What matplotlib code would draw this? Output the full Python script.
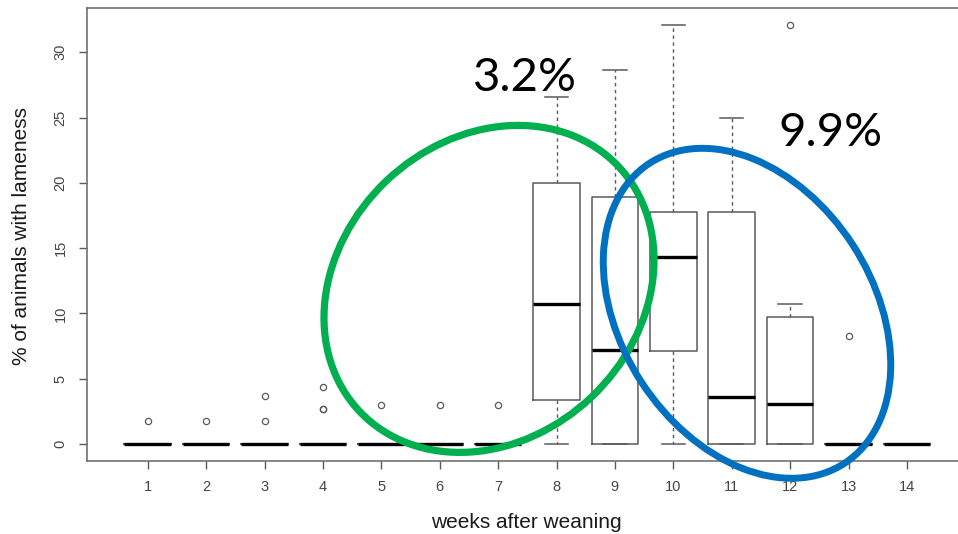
import numpy as np
import matplotlib
matplotlib.use('Agg')
import matplotlib.pyplot as plt
from matplotlib.patches import Ellipse
from matplotlib.transforms import IdentityTransform

plt.rc('font', family=['Liberation Sans', 'DejaVu Sans'])

# boxplot summary per week (% of animals with lameness)
weeks   = list(range(1, 15))
q1      = [0, 0, 0, 0, 0, 0, 0, 3.4, 0, 7.1, 0, 0, 0, 0]
med     = [0, 0, 0, 0, 0, 0, 0, 10.7, 7.2, 14.3, 3.6, 3.1, 0, 0]
q3      = [0, 0, 0, 0, 0, 0, 0, 20.0, 18.9, 17.8, 17.8, 9.7, 0, 0]
whislo  = [0] * 14
whishi  = [0, 0, 0, 0, 0, 0, 0, 26.6, 28.6, 32.1, 25.0, 10.7, 0, 0]
outl    = [[1.8], [1.8], [1.8, 3.7], [2.7, 2.7, 4.4], [3.0], [3.0], [3.0],
           [], [], [], [], [32.1], [8.3], []]

ann_text = ['3.2%', '9.9%']

W, H = 958, 534
fig = plt.figure(figsize=(W/100, H/100), dpi=100)

def fx(px): return px / W
def fy(py): return 1 - py / H

# axes box in pixels: left 87, bottom 461, top 7.8 (right side runs off the figure)
xlo, xhi = -0.04, 15.04
ylo, yhi = -1.3, 33.4
ppx = 58.4
axw = (xhi - xlo) * ppx
ax = fig.add_axes([fx(87), fy(461), axw / W, (461 - 7.8) / H])

stats = []
for i in range(len(weeks)):
    stats.append(dict(q1=q1[i], med=med[i], q3=q3[i], whislo=whislo[i],
                      whishi=whishi[i], fliers=outl[i]))

grey = '#5a5a5a'
ax.bxp(stats, positions=weeks, widths=0.8, showfliers=True,
       boxprops=dict(color=grey, lw=1.1),
       whiskerprops=dict(color=grey, lw=1.0, ls=(0, (2.5, 2.5))),
       capprops=dict(color=grey, lw=1.1),
       medianprops=dict(color='black', lw=2.4, solid_capstyle='butt'),
       flierprops=dict(marker='o', markersize=4.5, markerfacecolor='none',
                       markeredgecolor=grey, markeredgewidth=0.9))

ax.set_xlim(xlo, xhi)
ax.set_ylim(ylo, yhi)
ax.set_xticks(weeks)
ax.set_xticklabels([str(w) for w in weeks])
ax.set_yticks([0, 5, 10, 15, 20, 25, 30])
ax.tick_params(axis='both', colors=grey, labelcolor='#444444', labelsize=10.5,
               length=6, width=1.0, pad=8)
for lab in ax.get_yticklabels():
    lab.set_rotation(90)
    lab.set_va('center')
for sp in ax.spines.values():
    sp.set_color('#666666')
    sp.set_linewidth(1.1)

fig.text(fx(526), fy(522), 'weeks after weaning', ha='center', va='center',
         fontsize=15, color='#1a1a1a')
fig.text(fx(22), fy(236), '% of animals with lameness', ha='center', va='center',
         rotation=90, fontsize=15, color='#1a1a1a')

# highlighted periods
fig.add_artist(Ellipse((489, H - 288.9), 2 * 178.2, 2 * 149.0, angle=43.5,
                       fill=False, ec='#00B050', lw=5.2, transform=IdentityTransform()))
fig.add_artist(Ellipse((747, H - 313.3), 2 * 178.9, 2 * 126.0, angle=-57,
                       fill=False, ec='#0070C0', lw=5.0, transform=IdentityTransform()))

fig.text(fx(525), fy(91), ann_text[0], ha='center', va='baseline',
         fontsize=34, family='Lato', color='black')
fig.text(fx(831), fy(146), ann_text[1], ha='center', va='baseline',
         fontsize=34, family='Lato', color='black')

fig.savefig('out.png', dpi=100)
